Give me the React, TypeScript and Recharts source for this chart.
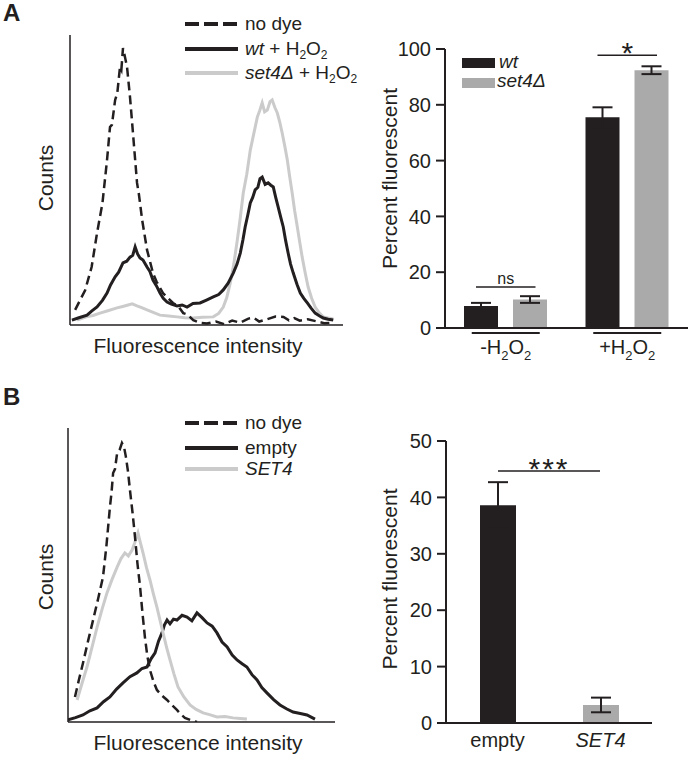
import React from "react";
import {
  LineChart,
  Line,
  XAxis,
  YAxis,
  BarChart,
  Bar,
  ErrorBar,
  Cell,
  Legend,
  ReferenceArea,
} from "recharts";

const FONT = '"Liberation Sans", Arial, Helvetica, sans-serif';
const INK = "#231f20";
const GRAY_BAR = "#aaaaaa";
const GRAY_LINE = "#cbcbcb";

type Pt = [number, number];

// Panel A histogram: x = fluorescence channel, y = counts (both on a 0-100 axis range)
const noDyeA: Pt[] = [
  [1.9, 5.2], [5.6, 12], [8, 20], [10, 31.7], [12, 42], [13.7, 56.9], [14.8, 68.3], [15.5, 69],
  [16.7, 77.6], [17.5, 80], [18.5, 89], [19, 88], [19.6, 95.5], [20.2, 93], [21.1, 89], [22.2, 78.6],
  [23.3, 66.2], [24.8, 49], [25.5, 45], [26.7, 36.2], [28.5, 25.9], [30.7, 17.9], [32, 15], [34.4, 11],
  [36, 9.5], [38.1, 7.6], [40, 6.5], [41.9, 4.1], [43.5, 3.6], [45.6, 1.7], [48, 0.8], [50.7, 0.5],
  [54, 1.2], [57, 0.3], [60, 1.5], [63, 0.8], [66, 2.2], [68, 2.5], [70, 1.2], [73, 2.0], [76, 2.9],
  [79, 2.8], [81, 1.6], [83, 2.4], [85, 1.5], [88, 2.0], [91.5, 1.2], [94, 0.6], [97, 0.8],
];
const wtA: Pt[] = [
  [0.7, 1.7], [3, 2.4], [6.3, 3.4], [8, 4.8], [10, 6.2], [12, 8.5], [13.7, 11], [15, 13.8], [16.7, 16.6],
  [18, 18.2], [19.6, 21.4], [21, 22], [22.2, 23.4], [23.2, 24], [24.1, 26.9], [25, 24.5], [25.9, 23.1],
  [27, 22.4], [28.5, 20], [29.5, 18.6], [30.7, 15.5], [32, 13.5], [33.3, 11], [34.5, 9.2], [35.9, 7.9],
  [37.5, 7.2], [39.6, 6.6], [41.5, 6.9], [43.3, 6.2], [45.5, 7.4], [48.1, 7.6], [50.5, 8.6], [53, 9.7],
  [55, 10.5], [56.7, 12.1], [58.5, 14.4], [60.4, 17.9], [61.8, 21], [63, 24.8], [64, 29.5], [64.8, 33.8],
  [65.8, 38], [66.7, 42.1], [67.6, 44], [68.5, 46.6], [69.5, 47.5], [70.3, 50.5], [71.1, 51], [72.2, 48.5],
  [73.3, 49], [74.3, 48.2], [75.2, 47.6], [76.1, 44], [77, 40.7], [78, 37], [78.9, 33.8], [79.8, 29],
  [80.7, 24.8], [81.6, 21], [82.6, 17.9], [84, 14], [85.2, 11], [86.5, 9.2], [87.8, 7.6], [89.2, 5.8],
  [90.7, 4.1], [92.2, 3.2], [93.7, 2.4], [95.5, 2.0], [97.4, 1.7],
];
const set4A: Pt[] = [
  [2.6, 1.7], [6, 2.8], [8.5, 3.3], [11.1, 4.1], [14, 4.9], [17.4, 5.9], [19.5, 6.4], [21.5, 6.9],
  [23, 7.3], [24.8, 6.6], [26.5, 6.0], [28.5, 5.2], [31, 4.3], [33.3, 3.4], [36.5, 3.1], [39.6, 2.8],
  [42.5, 2.5], [45.6, 2.4], [49, 2.7], [53, 2.8], [55, 4.0], [56.7, 6.2], [58, 9.5], [59.3, 14.5],
  [60.6, 21], [61.9, 29.3], [63, 37], [64.1, 45.5], [65.4, 52], [66.7, 60.3], [68, 66], [69.3, 71.7],
  [70.2, 74], [71.1, 76.6], [72, 73.5], [73, 74.1], [74, 77], [74.8, 77.6], [75.8, 75], [76.7, 73.1],
  [77.6, 70], [78.5, 66.2], [79.5, 61.5], [80.4, 56.9], [81.3, 51], [82.2, 45.5], [83.1, 39.5],
  [84.1, 33.8], [85, 28.5], [85.9, 23.4], [87, 18], [88.1, 13.1], [89.4, 9.2], [90.7, 6.2], [92.2, 4.2],
  [93.7, 2.8], [95.5, 2.4], [97.4, 2.1],
];

// Panel B histogram
const noDyeB: Pt[] = [
  [2.6, 8.5], [4, 14], [5.6, 20], [7.5, 27.5], [9.4, 34.7], [11.3, 42], [13.1, 49.3], [14.4, 60],
  [15.7, 73.1], [16.3, 78], [16.9, 84.7], [17.6, 86], [18.4, 91.5], [19.3, 92.5], [20.2, 94.9], [21, 93.5],
  [21.7, 90.1], [22.5, 85], [23.2, 78.9], [24.2, 71], [25.1, 62.9], [26, 54], [27, 45.9], [27.9, 37],
  [28.8, 28.9], [29.7, 22.5], [30.7, 17.7], [32, 13.8], [33.3, 10.9], [35.2, 9], [37.1, 7.5], [39, 5.7],
  [40.8, 4.1], [42.3, 2.6], [43.8, 1.4], [46, 0.6], [48.3, 0],
];
const emptyB: Pt[] = [
  [0, 0.7], [2.8, 1.5], [5.6, 2.4], [8.2, 3.8], [10.9, 4.8], [13.3, 6.9], [15.7, 8.5], [18.2, 11.2],
  [20.6, 13.3], [23.2, 15.4], [25.8, 16.7], [27.7, 18.2], [29.6, 18.7], [31.1, 21.5], [32.6, 23.5],
  [33.9, 27.5], [35.2, 30.3], [36.1, 33], [37.1, 34.7], [38.2, 33.4], [39.5, 35], [40.8, 34.7],
  [42.7, 36.3], [44.6, 35.7], [46.4, 34.4], [48.3, 37.1], [50.2, 35.5], [52.1, 33.7], [54, 32.6],
  [55.8, 30.3], [57.7, 27.2], [59.6, 25.5], [61.5, 22.8], [63.3, 21.1], [65.2, 19.8], [67, 18.7],
  [68.9, 16.1], [70.8, 14.3], [72.6, 11.7], [74.5, 9.9], [77, 7.6], [79.4, 5.8], [81.8, 4.5], [84.3, 3.4],
  [87, 2.9], [89.5, 2.4], [92.5, 1],
];
const set4B: Pt[] = [
  [3.4, 7.5], [5.2, 13], [7.1, 18.7], [9, 25.5], [10.9, 32.3], [12.8, 38.5], [14.6, 43.9], [16.5, 48.5],
  [18.4, 52.7], [19.8, 55.5], [21.3, 57.5], [22.6, 56.5], [24, 58.5], [25, 61], [26.2, 64.3], [27.1, 61],
  [28.1, 57.5], [29.4, 52.5], [30.7, 48.3], [32, 43.5], [33.3, 39.1], [34.5, 34.5], [35.6, 30.3],
  [36.9, 25.5], [38.2, 21.1], [39.7, 16.3], [41.2, 11.9], [43.4, 8.5], [45.7, 5.8], [48, 4.3],
  [50.6, 3.1], [53, 2.5], [55.8, 1.7], [58.8, 1.9], [61.8, 1.4], [64.5, 1.2], [67, 1],
];

// Panel A bars: percent fluorescent
const groupsA = ["-H2O2", "+H2O2"];
const wtValues = [7.9, 75.5];
const wtErrors = [1.1, 3.6];
const set4Values = [10.2, 92.4];
const set4Errors = [1.2, 1.4];
const sigLabelsA = ["ns", "*"];
const sigHeightsA = [14.7, 97.8];

// Panel B bars
const constructsB = ["empty", "SET4"];
const italicB = [false, true];
const valuesB = [38.6, 3.2];
const errorsB = [4.1, 1.3];
const sigLabelB = "***";
const sigHeightB = 44.7;

const toPts = (arr: Pt[]) => arr.map(([x, y]) => ({ x, y }));

// "H2O2" -> H, sub 2, O, sub 2
const chem = (s: string, sub: number, shift: number) => {
  const parts = s.split(/(\d+)/).filter((p) => p !== "");
  let low = false;
  return parts.map((p, i) => {
    const num = /^\d+$/.test(p);
    const dy = num && !low ? shift : !num && low ? -shift : 0;
    low = num;
    return (
      <tspan key={i} dy={dy || undefined} fontSize={num ? sub : undefined}>
        {p}
      </tspan>
    );
  });
};

const vTitle = (text: string, cx: number, shift: number) => (p: any) => {
  const vb = p?.viewBox ?? { y: 0, height: 0 };
  const cy = vb.y + vb.height / 2 + shift;
  return (
    <text
      x={cx}
      y={cy}
      transform={`rotate(-90, ${cx}, ${cy})`}
      textAnchor="middle"
      dominantBaseline="central"
      fontSize={21}
      fill={INK}
      fontFamily={FONT}
    >
      {text}
    </text>
  );
};

const hTitle = (text: string, cx: number, dy: number) => (p: any) => {
  const vb = p?.viewBox ?? { y: 0 };
  return (
    <text x={cx} y={vb.y + dy} textAnchor="middle" fontSize={21} fill={INK} fontFamily={FONT}>
      {text}
    </text>
  );
};

type Series = { key: string; data: Pt[]; stroke: string; width: number; dash?: string; legend: React.ReactNode };

function LineLegend({ items, rows }: { items: Series[]; rows: number[] }) {
  return (
    <svg width={180} height={80} style={{ overflow: "visible", display: "block" }}>
      {items.map((s, i) => (
        <g key={s.key}>
          <line
            x1={0}
            x2={53}
            y1={rows[i]}
            y2={rows[i]}
            stroke={s.stroke}
            strokeWidth={4}
            strokeDasharray={s.dash ? "14 5" : undefined}
          />
          <text x={60} y={rows[i] + 6} fontSize={19} fill={INK} fontFamily={FONT}>
            {s.legend}
          </text>
        </g>
      ))}
    </svg>
  );
}

function Histogram({
  series,
  legendItems,
  height,
  top,
  right,
  yAxisWidth,
  xAxisHeight,
  xMax,
  countsShift,
  legendTop,
  legendRows,
}: {
  series: Series[];
  legendItems: Series[];
  height: number;
  top: number;
  right: number;
  yAxisWidth: number;
  xAxisHeight: number;
  xMax: number;
  countsShift: number;
  legendTop: number;
  legendRows: number[];
}) {
  return (
    <LineChart width={345} height={height} margin={{ top, right, bottom: 0, left: 0 }}>
      <XAxis
        type="number"
        dataKey="x"
        domain={[0, xMax]}
        allowDataOverflow
        tick={false}
        tickLine={false}
        height={xAxisHeight}
        axisLine={{ stroke: INK, strokeWidth: 1.5 }}
        label={hTitle("Fluorescence intensity", 198, 28)}
      />
      <YAxis
        type="number"
        domain={[0, 100]}
        allowDataOverflow
        tick={false}
        tickLine={false}
        width={yAxisWidth}
        axisLine={{ stroke: INK, strokeWidth: 1.5 }}
        label={vTitle("Counts", 45, countsShift)}
      />
      {series.map((s) => (
        <Line
          key={s.key}
          data={toPts(s.data)}
          dataKey="y"
          type="linear"
          dot={false}
          activeDot={false}
          stroke={s.stroke}
          strokeWidth={s.width}
          strokeDasharray={s.dash}
          isAnimationActive={false}
        />
      ))}
      <Legend
        layout="vertical"
        align="center"
        verticalAlign="middle"
        wrapperStyle={{ left: 185, top: legendTop, width: 180, height: 80 }}
        content={() => <LineLegend items={legendItems} rows={legendRows} />}
      />
    </LineChart>
  );
}

const SigBracket = (p: any) => {
  const { x, y, width, text, inset, size, off, spacing } = p;
  return (
    <g>
      <line x1={x + inset} x2={x + width - inset} y1={y} y2={y} stroke={INK} strokeWidth={1.5} />
      <text
        x={x + width / 2}
        y={y + off}
        textAnchor="middle"
        fontSize={size}
        letterSpacing={spacing}
        fill={INK}
        fontFamily={FONT}
      >
        {text}
      </text>
    </g>
  );
};

const GroupTick = (props: any) => {
  const { x, y, payload } = props;
  return (
    <g>
      <line x1={x - 34} x2={x + 34} y1={y + 5} y2={y + 5} stroke={INK} strokeWidth={2} />
      <text x={x} y={y + 26} textAnchor="middle" fontSize={20} fill={INK} fontFamily={FONT}>
        {chem(payload.value, 13, 6)}
      </text>
    </g>
  );
};

const ConstructTick = (props: any) => {
  const { x, y, payload, index } = props;
  return (
    <text
      x={x}
      y={y + 24}
      textAnchor="middle"
      fontSize={20}
      fontStyle={italicB[index] ? "italic" : "normal"}
      fill={INK}
      fontFamily={FONT}
    >
      {payload.value}
    </text>
  );
};

function BoxLegend() {
  return (
    <svg width={120} height={40} style={{ overflow: "visible", display: "block" }}>
      <rect x={0} y={3} width={33} height={10} fill={INK} />
      <text x={37} y={13} fontSize={19} fontStyle="italic" fill={INK} fontFamily={FONT}>
        wt
      </text>
      <rect x={0} y={23} width={33} height={10} fill={GRAY_BAR} />
      <text x={35} y={32} fontSize={19} fontStyle="italic" fill={INK} fontFamily={FONT}>
        set4Δ
      </text>
    </svg>
  );
}

const yTickStyle = { fill: INK, fontSize: 20, fontFamily: FONT };

export default function App() {
  const seriesA: Series[] = [
    {
      key: "set4",
      data: set4A,
      stroke: GRAY_LINE,
      width: 3,
      legend: (
        <>
          <tspan fontStyle="italic">set4Δ</tspan>
          <tspan> + </tspan>
          {chem("H2O2", 12, 4)}
        </>
      ),
    },
    {
      key: "wt",
      data: wtA,
      stroke: INK,
      width: 3,
      legend: (
        <>
          <tspan fontStyle="italic">wt</tspan>
          <tspan> + </tspan>
          {chem("H2O2", 12, 4)}
        </>
      ),
    },
    { key: "nodye", data: noDyeA, stroke: INK, width: 2.5, dash: "9 5", legend: "no dye" },
  ];
  const seriesB: Series[] = [
    { key: "empty", data: emptyB, stroke: INK, width: 3, legend: "empty" },
    {
      key: "SET4",
      data: set4B,
      stroke: GRAY_LINE,
      width: 3,
      legend: <tspan fontStyle="italic">SET4</tspan>,
    },
    { key: "nodye", data: noDyeB, stroke: INK, width: 2.5, dash: "9 5", legend: "no dye" },
  ];
  // legend order top-to-bottom: no dye, black, gray
  const legendA = [seriesA[2], seriesA[1], seriesA[0]];
  const legendB = [seriesB[2], seriesB[0], seriesB[1]];

  const barAData = groupsA.map((g, i) => ({
    group: g,
    wt: wtValues[i],
    wtErr: wtErrors[i],
    set4: set4Values[i],
    set4Err: set4Errors[i],
  }));
  const barBData = constructsB.map((c, i) => ({ construct: c, value: valuesB[i], err: errorsB[i] }));

  return (
    <div style={{ position: "absolute", left: 0, top: 0, width: 690, height: 757, background: "#fff", fontFamily: FONT }}>
      {/* panel A histogram */}
      <div style={{ position: "absolute", left: 0, top: 0 }}>
        <Histogram
          series={seriesA}
          legendItems={legendA}
          height={370}
          top={35}
          right={2}
          yAxisWidth={70}
          xAxisHeight={45}
          xMax={101}
          countsShift={-2}
          legendTop={10}
          legendRows={[14, 39, 63]}
        />
      </div>

      {/* panel A bars */}
      <div style={{ position: "absolute", left: 345, top: 0 }}>
        <BarChart
          width={345}
          height={370}
          data={barAData}
          margin={{ top: 49, right: 2, bottom: 0, left: 0 }}
          barGap={15}
        >
          <XAxis
            dataKey="group"
            interval={0}
            tickLine={false}
            tickSize={0}
            tickMargin={0}
            height={42}
            axisLine={{ stroke: INK, strokeWidth: 2 }}
            tick={<GroupTick />}
          />
          <YAxis
            domain={[0, 100]}
            ticks={[0, 20, 40, 60, 80, 100]}
            width={100}
            tickSize={9}
            tickMargin={5}
            tick={yTickStyle}
            tickLine={{ stroke: INK, strokeWidth: 2 }}
            axisLine={{ stroke: INK, strokeWidth: 2 }}
            label={vTitle("Percent fluorescent", 44, -10)}
          />
          <Bar dataKey="wt" fill={INK} barSize={34} isAnimationActive={false}>
            <ErrorBar dataKey="wtErr" width={10} strokeWidth={2} stroke={INK} />
          </Bar>
          <Bar dataKey="set4" fill={GRAY_BAR} barSize={34} isAnimationActive={false}>
            <ErrorBar dataKey="set4Err" width={10} strokeWidth={2} stroke={INK} />
          </Bar>
          {groupsA.map((g, i) => (
            <ReferenceArea
              key={g}
              x1={g}
              x2={g}
              y1={sigHeightsA[i] - 2}
              y2={sigHeightsA[i]}
              ifOverflow="visible"
              shape={(p: any) => (
                <SigBracket
                  {...p}
                  text={sigLabelsA[i]}
                  inset={31}
                  size={sigLabelsA[i] === "ns" ? 16 : 30}
                  off={sigLabelsA[i] === "ns" ? -3 : 8}
                  spacing={0}
                />
              )}
            />
          ))}
          <Legend
            layout="vertical"
            align="center"
            verticalAlign="middle"
            wrapperStyle={{ left: 117, top: 55, width: 120, height: 40 }}
            content={() => <BoxLegend />}
          />
        </BarChart>
      </div>

      {/* panel B histogram */}
      <div style={{ position: "absolute", left: 0, top: 380 }}>
        <Histogram
          series={seriesB}
          legendItems={legendB}
          height={377}
          top={48}
          right={10}
          yAxisWidth={68}
          xAxisHeight={35}
          xMax={100}
          countsShift={2}
          legendTop={28}
          legendRows={[15, 40, 61]}
        />
      </div>

      {/* panel B bars */}
      <div style={{ position: "absolute", left: 345, top: 380 }}>
        <BarChart width={345} height={377} data={barBData} margin={{ top: 61, right: 38, bottom: 0, left: 0 }}>
          <XAxis
            dataKey="construct"
            interval={0}
            tickLine={false}
            tickSize={0}
            tickMargin={0}
            height={34}
            axisLine={{ stroke: INK, strokeWidth: 2 }}
            tick={<ConstructTick />}
          />
          <YAxis
            domain={[0, 50]}
            ticks={[0, 10, 20, 30, 40, 50]}
            width={101}
            tickSize={9}
            tickMargin={5}
            tick={yTickStyle}
            tickLine={{ stroke: INK, strokeWidth: 2 }}
            axisLine={{ stroke: INK, strokeWidth: 2 }}
            label={vTitle("Percent fluorescent", 44, -3)}
          />
          <Bar dataKey="value" barSize={36} isAnimationActive={false}>
            {barBData.map((d, i) => (
              <Cell key={d.construct} fill={i === 0 ? INK : GRAY_BAR} />
            ))}
            <ErrorBar dataKey="err" width={10} strokeWidth={2} stroke={INK} />
          </Bar>
          <ReferenceArea
            x1={constructsB[0]}
            x2={constructsB[constructsB.length - 1]}
            y1={sigHeightB - 2}
            y2={sigHeightB}
            ifOverflow="visible"
            shape={(p: any) => <SigBracket {...p} text={sigLabelB} inset={52} size={30} off={8} spacing={2} />}
          />
        </BarChart>
      </div>

      {/* panel letters */}
      <svg width={690} height={757} style={{ position: "absolute", left: 0, top: 0, pointerEvents: "none" }}>
        <text x={3} y={21} fontSize={24} fontWeight="bold" fill={INK} fontFamily={FONT}>
          A
        </text>
        <text x={3} y={405} fontSize={24} fontWeight="bold" fill={INK} fontFamily={FONT}>
          B
        </text>
      </svg>
    </div>
  );
}
